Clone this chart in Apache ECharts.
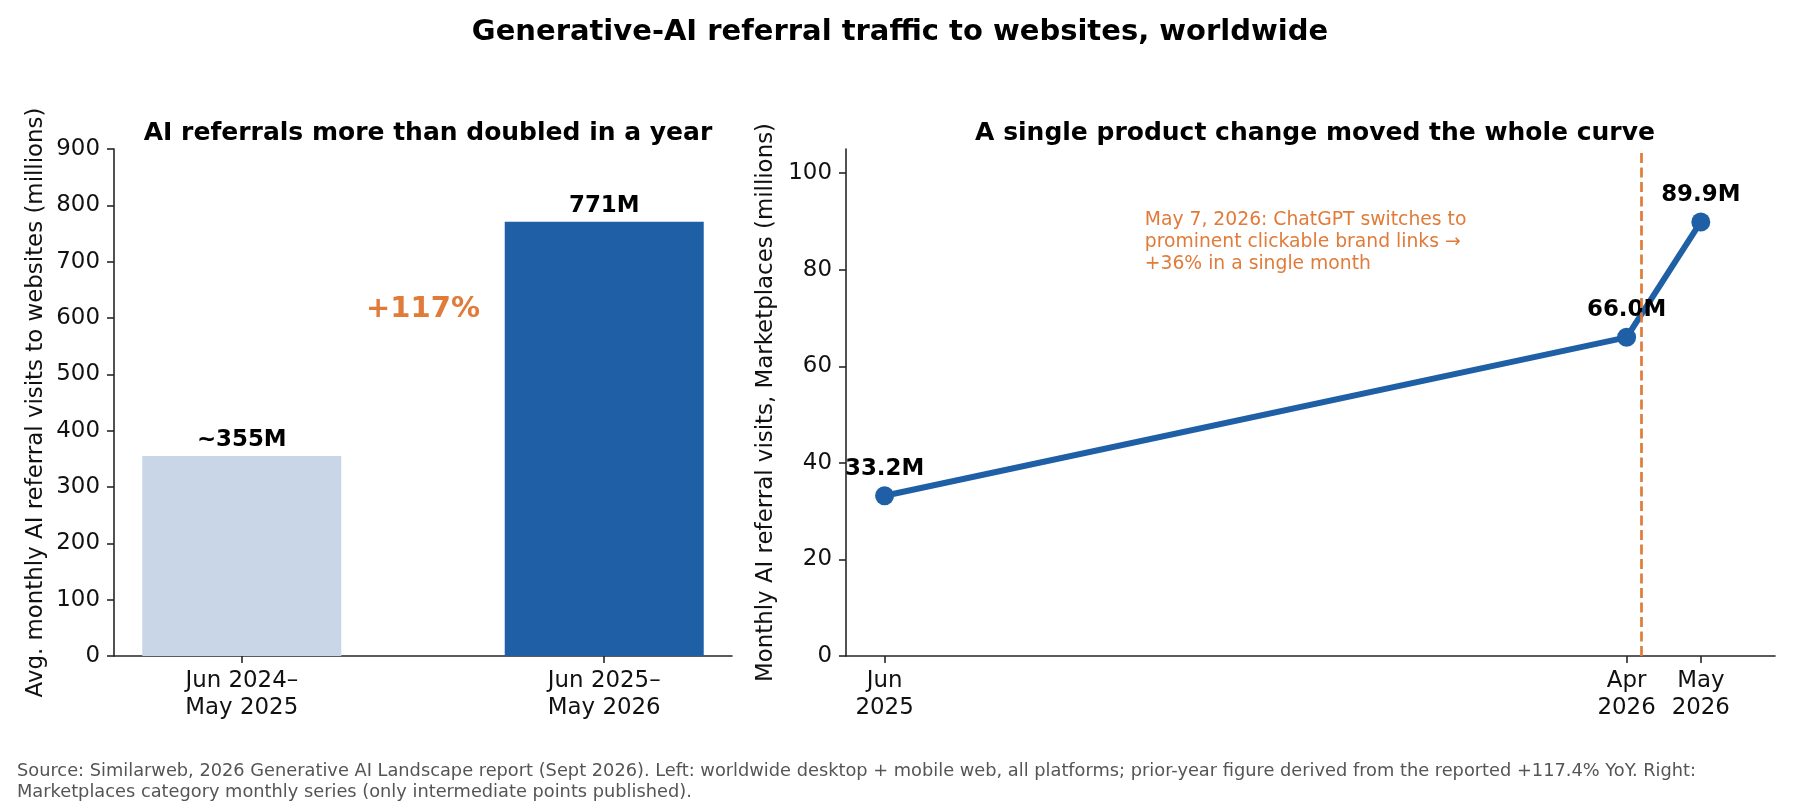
<!DOCTYPE html>
<html>
<head>
<meta charset="utf-8">
<title>Generative-AI referral traffic to websites, worldwide</title>
<script src="https://cdn.jsdelivr.net/npm/echarts@6/dist/echarts.min.js"></script>
<style>
  html, body { margin: 0; padding: 0; background: #fff; }
  #chart { width: 1800px; height: 810px; }
</style>
</head>
<body>
<div id="chart"></div>
<script>
// left panel: yearly averages
const barCategories = ['Jun 2024–\nMay 2025', 'Jun 2025–\nMay 2026'];
const barValues = [355, 771];
const barLabels = ['~355M', '771M'];
const growthLabel = '+117%';
const growthPos = [0.5, 615];
const leftTicks = [0, 100, 200, 300, 400, 500, 600, 700, 800, 900];

// right panel: Marketplaces monthly series (x = months since Jun 2025)
const monthIndex = [0, 10, 11];
const monthLabels = ['Jun\n2025', 'Apr\n2026', 'May\n2026'];
const marketplaceValues = [33.2, 66.0, 89.9];
const eventMonth = 10.2; // dashed marker position as drawn in the source
const eventNote = 'May 7, 2026: ChatGPT switches to\nprominent clickable brand links →\n+36% in a single month';
const notePos = [3.5, 85.7];
const rightTicks = [0, 20, 40, 60, 80, 100];

const footnote = 'Source: Similarweb, 2026 Generative AI Landscape report (Sept 2026). Left: worldwide desktop + mobile web, all platforms; prior-year figure derived from the reported +117.4% YoY. Right:\nMarketplaces category monthly series (only intermediate points published).';

const FONT = 'DejaVu Sans';
const BLUE = '#1f5fa6';
const LIGHT = '#c9d6e8';
const ORANGE = '#e07b39';
const AXIS = '#262626';

const axisLine = { show: true, onZero: false, lineStyle: { color: AXIS, width: 1.6 } };
const axisTick = { show: true, length: 7, lineStyle: { color: AXIS, width: 1.6 } };
const tickText = { fontFamily: FONT, fontSize: 22.9, color: '#111' };
const hidden = { color: 'rgba(0,0,0,0)', opacity: 1 };

const chart = echarts.init(document.getElementById('chart'));

const option = {
  animation: false,
  backgroundColor: '#fff',
  textStyle: { fontFamily: FONT },
  title: [
    { text: 'Generative-AI referral traffic to websites, worldwide', left: 'center', top: 13,
      textStyle: { fontFamily: FONT, fontSize: 29, fontWeight: 'bold', color: '#000' } },
    { text: 'AI referrals more than doubled in a year', left: 423, top: 116, textAlign: 'center',
      textStyle: { fontFamily: FONT, fontSize: 25, fontWeight: 'bold', color: '#000' } },
    { text: 'A single product change moved the whole curve', left: 1310, top: 116, textAlign: 'center',
      textStyle: { fontFamily: FONT, fontSize: 25, fontWeight: 'bold', color: '#000' } },
    { text: footnote, left: 17, top: 761, padding: 0,
      textStyle: { fontFamily: FONT, fontSize: 17.8, fontWeight: 'normal', color: '#555', lineHeight: 21 } }
  ],
  grid: [
    { left: 114, right: 1068, top: 149, bottom: 154, containLabel: false },
    { left: 846, right: 25, top: 149, bottom: 154, containLabel: false }
  ],
  xAxis: [
    {
      gridIndex: 0, type: 'value', min: -0.3525, max: 1.3525,
      axisLine: axisLine, axisTick: Object.assign({ customValues: [0, 1] }, axisTick),
      splitLine: { show: false },
      axisLabel: Object.assign({ customValues: [0, 1], margin: 12, lineHeight: 26.5,
        formatter: v => barCategories[Math.round(v)] }, tickText)
    },
    {
      gridIndex: 1, type: 'value', min: -0.52, max: 12,
      axisLine: axisLine, axisTick: Object.assign({ customValues: monthIndex }, axisTick),
      splitLine: { show: false },
      axisLabel: Object.assign({ customValues: monthIndex, margin: 12, lineHeight: 26.5,
        formatter: v => monthLabels[monthIndex.indexOf(v)] }, tickText)
    }
  ],
  yAxis: [
    {
      gridIndex: 0, type: 'value', min: 0, max: 900, interval: 100,
      axisLine: axisLine, axisTick: Object.assign({ customValues: leftTicks }, axisTick),
      splitLine: { show: false },
      axisLabel: Object.assign({ customValues: leftTicks, margin: 14 }, tickText),
      name: 'Avg. monthly AI referral visits to websites (millions)',
      nameLocation: 'middle', nameGap: 66,
      nameTextStyle: { fontFamily: FONT, fontSize: 22.9, color: '#111' }
    },
    {
      gridIndex: 1, type: 'value', min: 0, max: 105,
      axisLine: axisLine, axisTick: Object.assign({ customValues: rightTicks }, axisTick),
      splitLine: { show: false },
      axisLabel: Object.assign({ customValues: rightTicks, margin: 14 }, tickText),
      name: 'Monthly AI referral visits, Marketplaces (millions)',
      nameLocation: 'middle', nameGap: 66,
      nameTextStyle: { fontFamily: FONT, fontSize: 22.9, color: '#111' }
    }
  ],
  series: [
    {
      type: 'bar', xAxisIndex: 0, yAxisIndex: 0, barWidth: 199,
      data: barValues.map((v, i) => ({ value: [i, v], itemStyle: { color: i === 0 ? LIGHT : BLUE } })),
      label: {
        show: true, position: 'top', distance: 4,
        formatter: p => barLabels[p.dataIndex],
        fontFamily: FONT, fontSize: 22.9, fontWeight: 'bold', color: '#000'
      },
      silent: true
    },
    {
      type: 'scatter', xAxisIndex: 0, yAxisIndex: 0, symbolSize: 1,
      itemStyle: hidden,
      data: [growthPos],
      label: {
        show: true, position: 'inside', formatter: growthLabel,
        fontFamily: FONT, fontSize: 29, fontWeight: 'bold', color: ORANGE
      },
      silent: true
    },
    {
      type: 'line', xAxisIndex: 1, yAxisIndex: 1,
      data: monthIndex.map((m, i) => [m, marketplaceValues[i]]),
      symbol: 'circle', symbolSize: 19,
      lineStyle: { color: BLUE, width: 6 },
      itemStyle: { color: BLUE },
      label: {
        show: true, position: 'top', distance: 6,
        formatter: p => p.value[1].toFixed(1) + 'M',
        fontFamily: FONT, fontSize: 22.9, fontWeight: 'bold', color: '#000'
      },
      markLine: {
        silent: true, symbol: 'none',
        label: { show: false },
        lineStyle: { color: ORANGE, width: 2.7, type: [10, 4.5], opacity: 1 },
        data: [{ xAxis: eventMonth }]
      },
      z: 3
    },
    {
      type: 'scatter', xAxisIndex: 1, yAxisIndex: 1, symbolSize: 1,
      itemStyle: hidden,
      data: [notePos],
      label: {
        show: true, position: 'right', distance: 0, align: 'left', verticalAlign: 'middle',
        formatter: eventNote,
        fontFamily: FONT, fontSize: 18.75, lineHeight: 22.4, color: ORANGE
      },
      silent: true
    }
  ]
};

chart.setOption(option);
window.addEventListener('resize', () => chart.resize());
</script>
</body>
</html>
